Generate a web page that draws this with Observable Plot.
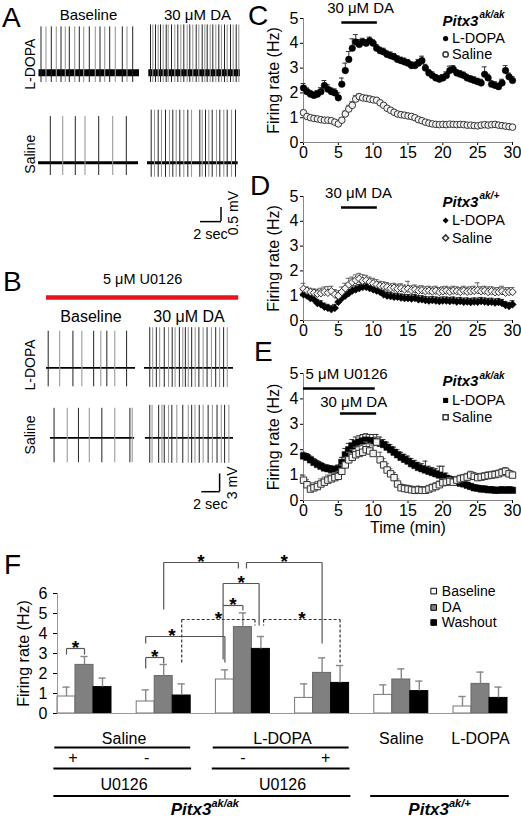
<!DOCTYPE html>
<html><head><meta charset="utf-8">
<script src="https://cdn.jsdelivr.net/npm/d3@7"></script>
<script src="https://cdn.jsdelivr.net/npm/@observablehq/plot@0.6"></script>
<style>
body{margin:0;background:#fff;}
#fig{position:relative;width:521px;height:820px;overflow:hidden;font-family:"Liberation Sans",Arial,sans-serif;background:#fff;}
.panel{position:absolute;}
.letter{position:absolute;font-size:28px;line-height:1;color:#000;}
</style></head><body><div id="fig"></div>
<script>
const FONT = '"Liberation Sans", Arial, Helvetica, sans-serif';

// ---------------- Panels A & B: spike trains ----------------
const traceRows = ["L-DOPA", "Saline"];
const traceCols = ["Baseline", "30 μM DA"];

// spike times (s)
const spikesA_LD_base = [0.25,0.75,1.28,1.78,2.25,2.68,3.08,3.62,4.08,4.52,5.08,5.68,6.15,6.62,7.12,7.68,8.38,8.85,9.42];
const spikesA_LD_da = [0.3,0.53,0.8,1.07,1.3,1.57,1.87,2.07,2.4,2.73,3.03,3.33,3.63,3.97,4.23,4.53,4.87,5.13,5.47,5.73,5.97,6.27,6.53,6.83,7.13,7.4,7.7,7.97,8.3,8.57,8.87,9.13];
const spikesA_Sal_base = [1.18,2.42,3.68,4.65,6.02,7.42,8.78];
const spikesA_Sal_da = [0.37,0.7,1.07,1.4,1.8,2.2,2.53,2.87,3.23,3.63,4.03,4.4,5.23,5.47,5.8,6.13,6.47,6.9,7.23,7.63,7.97,8.4,8.8];

const spikesB_LD_base = [0.19,1.48,2.97,3.97,5.3,6.1,6.78,7.67,9.0];
const spikesB_LD_da = [0.59,0.92,1.33,1.7,2.22,2.7,3.11,3.44,3.92,4.3,4.59,4.92,5.3,5.7,6.11,6.59,7.03,7.52,8.0,8.44,8.89,9.3];
const spikesB_Sal_base = [0.85,2.33,3.59,4.81,6.22,7.67,9.37,9.63];
const spikesB_Sal_da = [0.59,0.85,1.59,1.96,2.22,2.7,3.07,3.63,4.3,4.92,5.3,5.67,6.15,6.59,7.15,7.63,8.15,8.63,9.0,9.48];

// trace start/end (s) and spike peak/trough (mV)
const tracesA = [
  {row:"L-DOPA", col:"Baseline", start:0.05, end:10.1, up:1.63, down:-0.35, spikes:spikesA_LD_base},
  {row:"L-DOPA", col:"30 μM DA", start:0.13, end:9.3, up:1.7, down:-0.35, spikes:spikesA_LD_da},
  {row:"Saline", col:"Baseline", start:0.0, end:10.0, up:1.64, down:-0.46, spikes:spikesA_Sal_base},
  {row:"Saline", col:"30 μM DA", start:0.0, end:9.07, up:1.87, down:-0.52, spikes:spikesA_Sal_da}
];
const tracesB = [
  {row:"L-DOPA", col:"Baseline", start:0.0, end:10.0, up:6.2, down:-3.2, spikes:spikesB_LD_base},
  {row:"L-DOPA", col:"30 μM DA", start:0.0, end:10.0, up:6.8, down:-3.3, spikes:spikesB_LD_da},
  {row:"Saline", col:"Baseline", start:0.44, end:9.9, up:5.0, down:-4.2, spikes:spikesB_Sal_base},
  {row:"Saline", col:"30 μM DA", start:0.1, end:10.0, up:5.5, down:-4.3, spikes:spikesB_Sal_da}
];

// ---------------- Panels C, D, E: time courses ----------------
const tMin = [0,0.5,1,1.5,2,2.5,3,3.5,4,4.5,5,5.5,6,6.5,7,7.5,8,8.5,9,9.5,10,10.5,11,11.5,12,12.5,13,13.5,14,14.5,15,15.5,16,16.5,17,17.5,18,18.5,19,19.5,20,20.5,21,21.5,22,22.5,23,23.5,24,24.5,25,25.5,26,26.5,27,27.5,28,28.5,29,29.5,30];
const timeTicks = [0,5,10,15,20,25,30];
const rateTicks = [0,1,2,3,4,5];

const C_LD = [2.2,2.05,1.95,1.9,1.95,2.05,2.3,2.15,2.05,2.0,1.8,2.35,2.9,3.35,3.8,4.05,3.95,4.05,4.0,4.1,4.0,3.8,3.7,3.65,3.55,3.5,3.45,3.35,3.3,3.25,3.2,3.1,3.1,3.2,3.3,3.0,2.8,2.7,2.6,2.55,2.6,2.7,2.9,2.95,2.8,2.75,2.7,2.6,2.55,2.5,2.45,2.4,2.75,2.6,2.35,2.3,2.25,2.4,2.9,2.65,2.5];
const C_LD_err = [0.18,0.15,0.15,0.14,0.15,0.16,0.2,0.18,0.15,0.16,0.2,0.25,0.3,0.32,0.38,0.3,0.2,0.15,0.14,0.15,0.14,0.15,0.14,0.15,0.14,0.15,0.14,0.15,0.14,0.15,0.14,0.15,0.14,0.15,0.18,0.15,0.14,0.15,0.14,0.15,0.14,0.15,0.18,0.15,0.14,0.15,0.14,0.15,0.14,0.15,0.14,0.15,0.3,0.15,0.14,0.15,0.14,0.15,0.2,0.15,0.16];
const C_Sal = [1.2,1.05,1.0,0.97,0.95,0.92,0.9,0.9,0.88,0.82,0.75,0.9,1.15,1.35,1.5,1.75,1.85,1.8,1.78,1.75,1.72,1.7,1.6,1.5,1.38,1.3,1.22,1.15,1.12,1.1,1.07,1.05,1.0,0.92,0.88,0.82,0.78,0.75,0.73,0.72,0.73,0.72,0.74,0.73,0.72,0.73,0.72,0.7,0.7,0.68,0.67,0.7,0.72,0.7,0.72,0.73,0.7,0.68,0.66,0.64,0.62];
const C_Sal_err = [0.1,0.08,0.08,0.08,0.08,0.08,0.08,0.08,0.08,0.08,0.08,0.1,0.12,0.15,0.15,0.15,0.12,0.12,0.12,0.12,0.1,0.1,0.1,0.1,0.1,0.1,0.1,0.1,0.1,0.1,0.1,0.08,0.08,0.08,0.08,0.08,0.08,0.08,0.08,0.08,0.08,0.08,0.08,0.08,0.08,0.08,0.08,0.08,0.08,0.08,0.08,0.08,0.08,0.08,0.08,0.08,0.08,0.08,0.08,0.08,0.08];

const D_LD = [1.05,1.0,0.9,0.85,0.7,0.65,0.55,0.5,0.45,0.5,0.75,0.9,1.0,1.1,1.2,1.25,1.3,1.35,1.35,1.3,1.25,1.2,1.15,1.05,1.0,0.98,0.95,0.95,0.92,0.9,0.9,0.88,0.9,0.85,0.85,0.82,0.8,0.82,0.8,0.78,0.8,0.8,0.78,0.8,0.76,0.78,0.75,0.76,0.74,0.76,0.75,0.78,0.76,0.74,0.75,0.72,0.74,0.7,0.62,0.58,0.65];
const D_LD_err = [0.15,0.15,0.15,0.15,0.15,0.15,0.15,0.15,0.15,0.15,0.15,0.15,0.15,0.15,0.15,0.15,0.15,0.15,0.15,0.15,0.15,0.15,0.15,0.15,0.15,0.15,0.15,0.15,0.15,0.15,0.15,0.15,0.15,0.15,0.15,0.15,0.15,0.15,0.15,0.15,0.15,0.15,0.15,0.15,0.15,0.15,0.15,0.15,0.15,0.15,0.15,0.15,0.15,0.15,0.15,0.15,0.15,0.15,0.15,0.15,0.15];
const D_Sal = [1.28,1.2,1.15,1.12,1.08,1.1,1.15,1.12,1.18,1.05,1.0,1.15,1.3,1.45,1.55,1.62,1.68,1.6,1.62,1.55,1.5,1.45,1.4,1.38,1.35,1.3,1.32,1.28,1.3,1.25,1.28,1.22,1.25,1.2,1.22,1.18,1.2,1.17,1.2,1.15,1.18,1.2,1.16,1.2,1.18,1.15,1.2,1.16,1.18,1.2,1.22,1.18,1.2,1.15,1.18,1.14,1.15,1.18,1.12,1.15,1.15];
const D_Sal_err = [0.22,0.15,0.15,0.15,0.18,0.2,0.2,0.25,0.2,0.2,0.2,0.2,0.2,0.25,0.2,0.22,0.22,0.25,0.2,0.2,0.2,0.2,0.18,0.18,0.18,0.18,0.18,0.18,0.18,0.18,0.3,0.18,0.18,0.18,0.18,0.18,0.18,0.18,0.18,0.18,0.18,0.18,0.18,0.18,0.18,0.18,0.18,0.18,0.18,0.18,0.3,0.18,0.18,0.2,0.18,0.18,0.18,0.2,0.2,0.18,0.18];

const E_LD = [1.75,1.7,1.6,1.5,1.42,1.35,1.28,1.25,1.22,1.2,1.25,1.5,1.8,2.0,2.15,2.25,2.3,2.35,2.38,2.35,2.35,2.3,2.25,2.2,2.1,2.0,1.9,1.8,1.7,1.62,1.55,1.45,1.38,1.3,1.25,1.2,1.15,1.1,1.05,1.0,0.95,0.88,0.82,0.78,0.72,0.68,0.65,0.6,0.55,0.5,0.48,0.45,0.45,0.42,0.42,0.4,0.4,0.42,0.4,0.42,0.4];
const E_LD_err = [0.15,0.15,0.15,0.15,0.15,0.15,0.15,0.15,0.15,0.15,0.15,0.2,0.25,0.25,0.25,0.25,0.25,0.25,0.25,0.25,0.25,0.3,0.25,0.2,0.2,0.2,0.2,0.2,0.2,0.2,0.2,0.2,0.2,0.2,0.2,0.35,0.2,0.2,0.2,0.35,0.4,0.2,0.15,0.15,0.15,0.15,0.15,0.12,0.12,0.12,0.12,0.12,0.12,0.12,0.12,0.12,0.12,0.12,0.12,0.12,0.12];
const E_Sal = [0.8,0.62,0.45,0.5,0.55,0.65,0.72,0.8,0.85,0.9,0.95,1.15,1.4,1.6,1.7,1.8,1.85,1.9,2.0,1.95,1.85,2.3,1.6,1.4,1.2,1.05,0.9,0.65,0.5,0.47,0.45,0.42,0.4,0.42,0.4,0.4,0.45,0.5,0.55,0.62,0.7,0.72,0.75,0.72,0.8,0.85,0.88,0.92,1.0,0.95,0.9,0.92,0.95,0.98,1.0,1.02,1.05,1.1,1.15,1.05,1.0];
const E_Sal_err = [0.2,0.2,0.2,0.2,0.2,0.2,0.2,0.2,0.2,0.2,0.2,0.25,0.3,0.3,0.3,0.3,0.3,0.3,0.3,0.3,0.3,0.2,0.3,0.25,0.25,0.2,0.2,0.2,0.15,0.15,0.15,0.15,0.15,0.15,0.15,0.15,0.15,0.15,0.15,0.15,0.15,0.15,0.15,0.15,0.15,0.15,0.15,0.15,0.15,0.15,0.15,0.15,0.15,0.15,0.15,0.15,0.15,0.15,0.15,0.15,0.15];

// ---------------- Panel F: bar chart ----------------
const fGroups = ["Saline +U0126","Saline -U0126","L-DOPA -U0126","L-DOPA +U0126","Saline","L-DOPA"];
const fTreatment = ["Saline","Saline","L-DOPA","L-DOPA","Saline","L-DOPA"];
const fU0126 = ["+","-","-","+",null,null];
const fGenotype = ["ak/ak","ak/ak","ak/ak","ak/ak","ak/+","ak/+"];
const fConditions = ["Baseline","DA","Washout"];
const fBaseline = [0.85,0.6,1.7,0.78,0.93,0.35];
const fBaselineErr = [0.47,0.58,0.48,0.7,0.5,0.5];
const fDA = [2.43,1.87,4.32,2.03,1.7,1.48];
const fDAErr = [0.42,0.58,0.71,0.75,0.53,0.59];
const fWashout = [1.32,0.9,3.23,1.53,1.12,0.78];
const fWashoutErr = [0.45,0.58,0.62,0.87,0.5,0.54];
const fYTicks = [0,1,2,3,4,5,6];
// significance comparisons: [group, condition] pairs
const fSig = [
  {a:[0,0], b:[0,1], top:3.25, ya:2.95, yb:2.95},
  {a:[1,0], b:[1,1], top:2.8, ya:2.25, yb:2.5},
  {a:[1,0], b:[2,0], top:3.85, ya:3.5, yb:2.55, star:0.33},
  {a:[1,2], b:[2,2], top:4.7, ya:2.5, yb:4.4, dashed:true, db:-0.33},
  {a:[2,2], b:[3,2], top:4.7, ya:4.4, yb:2.5, dashed:true, da:0.15},
  {a:[2,0], b:[2,1], top:5.4, ya:2.7, yb:5.15, da:-0.1},
  {a:[2,0], b:[2,2], top:6.5, ya:5.4, yb:4.4, da:-0.1, db:-0.1},
  {a:[1,1], b:[2,1], top:7.55, ya:5.2, yb:7.25, db:-0.25},
  {a:[2,1], b:[3,1], top:7.55, ya:7.25, yb:3.5, da:0.2}
];

// ================= drawing =================
const fig = document.getElementById("fig");
const intFmt = d3.format("d");
function place(node, left, top) {
  const d = document.createElement("div");
  d.className = "panel"; d.style.left = left + "px"; d.style.top = top + "px";
  d.appendChild(node); fig.appendChild(d);
}
function letter(txt, left, top) {
  const d = document.createElement("div");
  d.className = "letter"; d.textContent = txt;
  d.style.left = left + "px"; d.style.top = top + "px";
  fig.appendChild(d);
}
const baseStyle = (fs) => ({fontFamily: FONT, fontSize: fs, background: "transparent", overflow: "visible", color: "#000"});

function spikeRecs(traces) {
  return traces.flatMap(tr => tr.spikes.map((t, i) => ({row: tr.row, col: tr.col, t, up: tr.up, down: tr.down, i})));
}

function tracePlot(o) {
  const sp = spikeRecs(o.traces);
  return Plot.plot({
    width: o.width, height: o.height,
    marginLeft: o.ml, marginRight: o.mr, marginTop: o.mt, marginBottom: o.mb,
    style: baseStyle(o.fontSize),
    x: {domain: [0, 10], axis: null},
    y: {domain: o.yDomain, axis: null},
    fx: {domain: traceCols, paddingInner: o.fxPad, paddingOuter: 0, axis: "top", tickSize: 0, tickPadding: o.headPad, label: null},
    fy: {domain: traceRows, paddingInner: o.fyPad, paddingOuter: 0, axis: null},
    marks: [
      Plot.ruleY(o.traces, {fx: "col", fy: "row", y: 0, x1: "start", x2: "end", stroke: "#000", strokeWidth: o.baseWidth}),
      Plot.ruleX(sp.filter(d => d.i % 2 === 0), {fx: "col", fy: "row", x: "t", y1: "down", y2: "up", stroke: "#222", strokeWidth: 1}),
      Plot.ruleX(sp.filter(d => d.i % 2 === 1), {fx: "col", fy: "row", x: "t", y1: "down", y2: "up", stroke: "#9a9a9a", strokeWidth: 1.1}),
      Plot.text(traceRows, {fx: () => "Baseline", fy: d => d, x: o.rowLabelX, y: o.rowLabelY, text: d => d, rotate: -90, fontSize: 14}),
      ...o.extra
    ]
  });
}

// ---- Panel A ----
const plotA = tracePlot({
  traces: tracesA, width: 260, height: 245, ml: 37.5, mr: 13, mt: 15.7, mb: 66.2,
  fontSize: "15px", yDomain: [-0.6, 2.0], fxPad: 0.0868, fyPad: 0.194, headPad: -3,
  baseWidth: d => d.row === "L-DOPA" ? 7 : 3, rowLabelX: -0.75, rowLabelY: 0.3,
  extra: [
    Plot.ruleX([0], {fx: () => "30 μM DA", fy: () => "Saline", x: 7.35, y1: -2.1, y2: -1.6, strokeWidth: 1.5}),
    Plot.ruleY([0], {fx: () => "30 μM DA", fy: () => "Saline", y: -2.1, x1: 5.3, x2: 7.4, strokeWidth: 1.5}),
    Plot.text(["2 sec"], {fx: () => "30 μM DA", fy: () => "Saline", x: 6.3, y: -2.55, text: d => d, fontSize: 14.5}),
    Plot.text(["0.5 mV"], {fx: () => "30 μM DA", fy: () => "Saline", x: 8.65, y: -1.8, text: d => d, rotate: -90, fontSize: 14})
  ]
});
place(plotA, 0, 0);

// ---- Panel B ----
const plotB = tracePlot({
  traces: tracesB, width: 260, height: 250, ml: 45, mr: 26, mt: 65.5, mb: 44.5,
  fontSize: "16px", yDomain: [-4.5, 7], fxPad: 0.0909, fyPad: 0.028, headPad: 5,
  baseWidth: 1.6, rowLabelX: -1.8, rowLabelY: 0.5,
  extra: [
    Plot.ruleY([0], {fx: () => "Baseline", fy: () => "L-DOPA", y: 11.9, x1: 0, x2: 21.6, stroke: "#e8141c", strokeWidth: 4.5}),
    Plot.text(["5 μM U0126"], {fx: () => "Baseline", fy: () => "L-DOPA", x: 10.8, y: 14.9, text: d => d, fontSize: 14.5}),
    Plot.ruleX([0], {fx: () => "30 μM DA", fy: () => "Saline", x: 8.44, y1: -9.1, y2: -6.1, strokeWidth: 1.5}),
    Plot.ruleY([0], {fx: () => "30 μM DA", fy: () => "Saline", y: -9.1, x1: 6.44, x2: 8.5, strokeWidth: 1.5}),
    Plot.text(["2 sec"], {fx: () => "30 μM DA", fy: () => "Saline", x: 7.4, y: -11.2, text: d => d, fontSize: 14.5}),
    Plot.text(["3 mV"], {fx: () => "30 μM DA", fy: () => "Saline", x: 9.85, y: -7.6, text: d => d, rotate: -90, fontSize: 14})
  ]
});
place(plotB, 0, 260);

// ---- Panels C, D, E ----
function series(vals, errs) { return tMin.map((t, i) => ({t, v: vals[i], e: errs[i]})); }
function timePanel(o) {
  const ld = series(o.ld, o.ldErr), sal = series(o.sal, o.salErr);
  const cap = 0.35;
  const err = (data, stroke) => [
    Plot.ruleX(data, {x: "t", y1: "v", y2: d => d.v + d.e, stroke, strokeWidth: 1}),
    Plot.ruleY(data, {y: d => d.v + d.e, x1: d => d.t - cap, x2: d => d.t + cap, stroke, strokeWidth: 1})
  ];
  const [hy, ly, sy] = o.legY;
  return Plot.plot({
    width: 261, height: o.height, marginLeft: 43, marginRight: 9, marginTop: o.mt, marginBottom: o.mb,
    style: baseStyle("16px"),
    x: {domain: [0, 30], ticks: timeTicks, tickFormat: intFmt, tickSize: 3, tickPadding: 1, label: o.xLabel || null, labelAnchor: "center", labelOffset: 32, labelArrow: "none"},
    y: {domain: [0, 5], ticks: rateTicks, tickFormat: intFmt, tickSize: 3, tickPadding: 2, label: "Firing rate (Hz)", labelAnchor: "center", labelOffset: 36, labelArrow: "none"},
    marks: [
      Plot.ruleY([0], {stroke: "#888"}),
      Plot.ruleX([0], {stroke: "#888"}),
      ...err(ld, "#333"),
      Plot.dot(ld, {x: "t", y: "v", symbol: o.sym, r: o.r, fill: "#000", stroke: "#000", strokeWidth: 0.5}),
      ...err(sal, "#666"),
      Plot.dot(sal, {x: "t", y: "v", symbol: o.sym, r: o.r, fill: "#f2f2f2", stroke: "#333", strokeWidth: 1}),
      ...o.annot,
      Plot.text(["Pitx3"], {x: 19.95, y: hy, text: d => d, textAnchor: "start", fontWeight: "bold", fontStyle: "italic", fontSize: 15}),
      Plot.text([o.genotype], {x: 19.95, y: hy, text: d => d, textAnchor: "start", fontStyle: "italic", fontWeight: "bold", fontSize: 10, dx: 37, dy: -6}),
      Plot.dot(["L-DOPA"], {x: 20.4, y: ly, symbol: o.sym, r: o.r * 0.8, fill: "#000"}),
      Plot.text(["L-DOPA"], {x: 21.3, y: ly, text: d => d, textAnchor: "start", fontSize: 14.5}),
      Plot.dot(["Saline"], {x: 20.4, y: sy, symbol: o.sym, r: o.r * 0.8, fill: "#fff", stroke: "#333"}),
      Plot.text(["Saline"], {x: 21.3, y: sy, text: d => d, textAnchor: "start", fontSize: 14.5})
    ]
  });
}
const plotC = timePanel({
  ld: C_LD, ldErr: C_LD_err, sal: C_Sal, salErr: C_Sal_err, sym: "circle", r: 3.3,
  height: 165, mt: 18, mb: 23, legY: [4.89, 4.19, 3.55], genotype: "ak/ak",
  annot: [
    Plot.ruleY([0], {y: 4.84, x1: 5.5, x2: 10.6, strokeWidth: 2.5}),
    Plot.text(["30 μM DA"], {x: 8.2, y: 5.42, text: d => d, fontSize: 15})
  ]
});
place(plotC, 260, 0);

const plotD = timePanel({
  ld: D_LD, ldErr: D_LD_err, sal: D_Sal, salErr: D_Sal_err, sym: "diamond2", r: 3.4,
  height: 175, mt: 26, mb: 25, legY: [4.77, 4.03, 3.33], genotype: "ak/+",
  annot: [
    Plot.ruleY([0], {y: 4.56, x1: 5.45, x2: 10.6, strokeWidth: 2.5}),
    Plot.text(["30 μM DA"], {x: 7.9, y: 5.12, text: d => d, fontSize: 15})
  ]
});
place(plotD, 260, 170);

const plotE = timePanel({
  ld: E_LD, ldErr: E_LD_err, sal: E_Sal, salErr: E_Sal_err, sym: "square", r: 3.6,
  height: 190, mt: 28, mb: 35, legY: [4.69, 3.94, 3.28], genotype: "ak/ak", xLabel: "Time (min)",
  annot: [
    Plot.ruleY([0], {y: 4.41, x1: 0, x2: 10.3, strokeWidth: 2.5}),
    Plot.text(["5 μM U0126"], {x: 0.3, y: 4.96, text: d => d, textAnchor: "start", fontSize: 15}),
    Plot.ruleY([0], {y: 3.43, x1: 5.3, x2: 10.5, strokeWidth: 2.5}),
    Plot.text(["30 μM DA"], {x: 7.2, y: 3.86, text: d => d, fontSize: 15})
  ]
});
place(plotE, 260, 345);

// ---- Panel F ----
const GROUP_STEP = 4.4;          // group pitch, in bar widths
const barX = (g, c) => g * GROUP_STEP + c;
const gStart = g => barX(g, 0), gEnd = g => barX(g, 3), gMid = g => barX(g, 1.5);
const fVals = [fBaseline, fDA, fWashout], fErrs = [fBaselineErr, fDAErr, fWashoutErr];
const fBars = fGroups.flatMap((_, g) => fConditions.map((c, ci) => ({g, c: ci, v: fVals[ci][g], e: fErrs[ci][g]})));
const condFill = ["#fff", "#808080", "#000"], condStroke = ["#777", "#666", "#000"];

const bx = (ref, off) => barX(ref[0], ref[1]) + 0.5 + (off || 0);
const segs = fSig.flatMap(s => {
  const xa = bx(s.a, s.da), xb = bx(s.b, s.db), dashed = !!s.dashed;
  return [{x1: xa, y1: s.top, x2: xb, y2: s.top, dashed}, {x1: xa, y1: s.top, x2: xa, y2: s.ya, dashed}, {x1: xb, y1: s.top, x2: xb, y2: s.yb, dashed}];
});
const stars = fSig.map(s => {
  const xa = bx(s.a, s.da), xb = bx(s.b, s.db);
  return {x: xa + (xb - xa) * (s.star ?? 0.5), y: s.top + 0.3};
});

function spans(key) {
  const out = [];
  fGroups.forEach((_, g) => {
    const k = key(g), last = out[out.length - 1];
    if (last && last.key === k) last.g2 = g; else out.push({key: k, g1: g, g2: g});
  });
  return out;
}
const treatSpans = spans(g => fGenotype[g] + "|" + fTreatment[g] + "|" + (fU0126[g] === null ? "n" : "u")).map(s => ({...s, label: fTreatment[s.g1], drug: fU0126[s.g1] !== null}));
const genoSpans = spans(g => fGenotype[g]).map(s => ({...s, label: fGenotype[s.g1]}));
const drugGroups = fGroups.map((_, g) => g).filter(g => fU0126[g] !== null);
const signNudge = [-0.65, -0.95, 0, 0.2];
const lineRecs = [
  ...treatSpans.filter(s => s.drug).flatMap(s => [{x1: gStart(s.g1) - 0.15, x2: gEnd(s.g2), y: -1.7}, {x1: gStart(s.g1) - 0.2, x2: gEnd(s.g2) + 0.05, y: -2.75}]),
  ...genoSpans.map(s => ({x1: gStart(s.g1) - 0.2, x2: gEnd(s.g2) + 0.1, y: -4.12}))
];
const fLegY = [6.12, 5.3, 4.55];

const plotF = Plot.plot({
  width: 521, height: 280, marginLeft: 57, marginRight: 14, marginTop: 53, marginBottom: 107,
  style: baseStyle("16px"),
  x: {domain: [0, 25], axis: null},
  y: {domain: [0, 6], ticks: fYTicks, tickFormat: intFmt, tickSize: 4, tickPadding: 6, label: "Firing rate (Hz)", labelAnchor: "center", labelOffset: 40, labelArrow: "none"},
  marks: [
    ...fConditions.map((c, ci) => Plot.rectY(fBars.filter(d => d.c === ci), {x1: d => barX(d.g, d.c), x2: d => barX(d.g, d.c) + 1, y1: 0, y2: "v", fill: condFill[ci], stroke: condStroke[ci], strokeWidth: 1})),
    Plot.ruleX(fBars, {x: d => barX(d.g, d.c) + 0.5, y1: "v", y2: d => d.v + d.e, stroke: "#888", strokeWidth: 1.4}),
    Plot.ruleY(fBars, {y: d => d.v + d.e, x1: d => barX(d.g, d.c) + 0.3, x2: d => barX(d.g, d.c) + 0.7, stroke: "#888", strokeWidth: 1.4}),
    Plot.ruleY([0], {x1: 0, x2: 25, stroke: "#999"}),
    Plot.ruleX([0], {y1: 0, y2: 6, stroke: "#999"}),
    Plot.link(segs.filter(d => !d.dashed), {x1: "x1", y1: "y1", x2: "x2", y2: "y2", stroke: "#555", strokeWidth: 1.2}),
    Plot.link(segs.filter(d => d.dashed), {x1: "x1", y1: "y1", x2: "x2", y2: "y2", stroke: "#333", strokeWidth: 1.2, strokeDasharray: "3,2"}),
    Plot.text(stars, {x: "x", y: "y", text: () => "*", fontSize: 19, fontWeight: "bold", dy: 5}),
    // legend
    ...fConditions.map((c, ci) => Plot.dot([c], {x: 20.9, y: fLegY[ci], symbol: "square", r: 3.2, fill: condFill[ci], stroke: "#000", strokeWidth: 1})),
    Plot.text(fConditions, {x: 21.35, y: (d, i) => fLegY[i], text: d => d, textAnchor: "start", fontSize: 14}),
    // category labels below the axis
    Plot.text(treatSpans, {x: s => (gMid(s.g1) + gMid(s.g2)) / 2, y: -1.25, text: "label", fontSize: 16}),
    Plot.ruleY(lineRecs, {y: "y", x1: "x1", x2: "x2", stroke: "#000", strokeWidth: 2}),
    Plot.text(drugGroups, {x: (g, i) => gMid(g) + signNudge[i], y: -2.22, text: g => fU0126[g], fontSize: 16}),
    Plot.text(treatSpans.filter(s => s.drug), {x: s => (gMid(s.g1) + gMid(s.g2)) / 2, y: -3.55, text: () => "U0126", fontSize: 16}),
    Plot.text(genoSpans, {x: s => (gMid(s.g1) + gMid(s.g2)) / 2 + 0.45, y: -4.8, text: () => "Pitx3", textAnchor: "end", fontWeight: "bold", fontStyle: "italic", fontSize: 17}),
    Plot.text(genoSpans, {x: s => (gMid(s.g1) + gMid(s.g2)) / 2 + 0.45, y: -4.8, text: "label", textAnchor: "start", fontWeight: "bold", fontStyle: "italic", fontSize: 11, dy: -6})
  ]
});
place(plotF, 0, 540);

letter("A", 2, 4);
letter("B", 3, 268);
letter("C", 248, 2);
letter("D", 250, 172);
letter("E", 254, 338);
letter("F", 4, 551);
</script></body></html>
